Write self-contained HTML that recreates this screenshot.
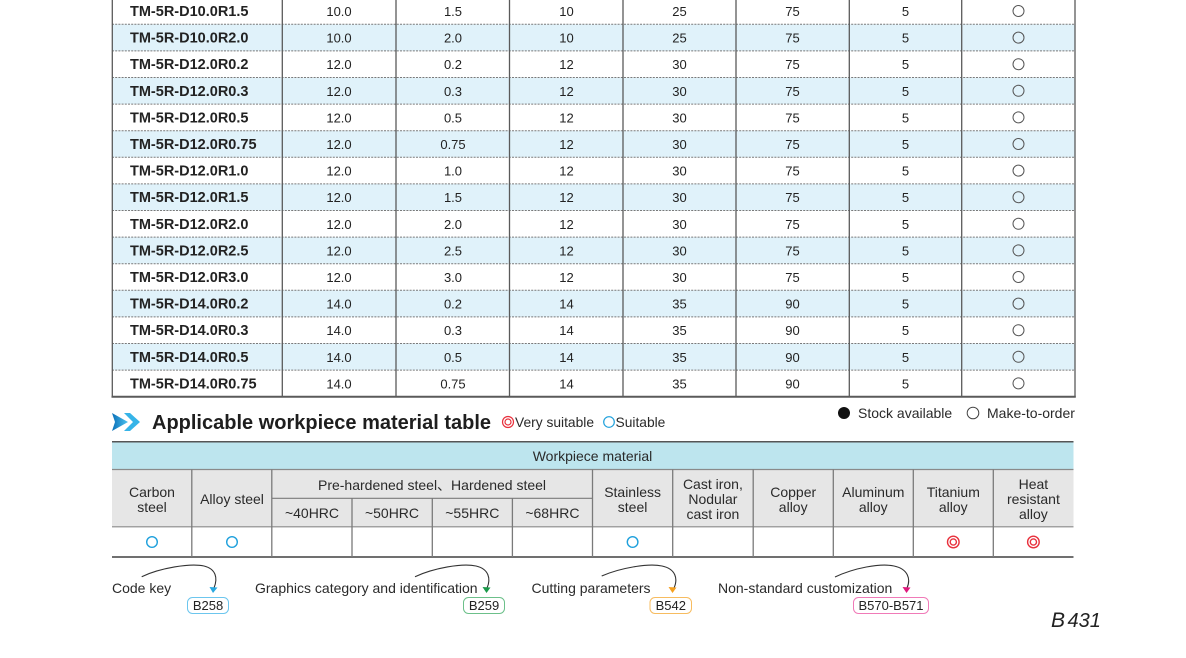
<!DOCTYPE html>
<html><head><meta charset="utf-8">
<style>
html,body{margin:0;padding:0;background:#fff;}
svg{display:block;}
text{font-family:"Liberation Sans","Noto Sans CJK SC",sans-serif;fill:#222;}
.c{text-anchor:middle;font-size:13px;}
.k{font-size:14.5px;font-weight:bold;}
.h{text-anchor:middle;font-size:14px;fill:#2a2a2a;}
.b{font-size:14px;fill:#2a2a2a;}
.p{text-anchor:middle;font-size:13px;fill:#222;}
</style></head>
<body>
<svg width="1186" height="658" viewBox="0 0 1186 658" xmlns="http://www.w3.org/2000/svg">
<!-- main table backgrounds -->
<g fill="#e0f2fa">
<rect x="112" y="24.3" width="963" height="26.6"/>
<rect x="112" y="77.5" width="963" height="26.6"/>
<rect x="112" y="130.7" width="963" height="26.6"/>
<rect x="112" y="183.9" width="963" height="26.6"/>
<rect x="112" y="237.1" width="963" height="26.6"/>
<rect x="112" y="290.3" width="963" height="26.6"/>
<rect x="112" y="343.5" width="963" height="26.6"/>
</g>
<!-- dotted horizontal lines -->
<g stroke="#7a7a7a" stroke-width="1" stroke-dasharray="2,1.2">
<line x1="112" y1="24.3" x2="1075" y2="24.3"/>
<line x1="112" y1="50.9" x2="1075" y2="50.9"/>
<line x1="112" y1="77.5" x2="1075" y2="77.5"/>
<line x1="112" y1="104.1" x2="1075" y2="104.1"/>
<line x1="112" y1="130.7" x2="1075" y2="130.7"/>
<line x1="112" y1="157.3" x2="1075" y2="157.3"/>
<line x1="112" y1="183.9" x2="1075" y2="183.9"/>
<line x1="112" y1="210.5" x2="1075" y2="210.5"/>
<line x1="112" y1="237.1" x2="1075" y2="237.1"/>
<line x1="112" y1="263.7" x2="1075" y2="263.7"/>
<line x1="112" y1="290.3" x2="1075" y2="290.3"/>
<line x1="112" y1="316.9" x2="1075" y2="316.9"/>
<line x1="112" y1="343.5" x2="1075" y2="343.5"/>
<line x1="112" y1="370.1" x2="1075" y2="370.1"/>
</g>
<!-- vertical lines -->
<g stroke="#5a5a5a" stroke-width="1.3">
<line x1="112.3" y1="0" x2="112.3" y2="397"/>
<line x1="282.3" y1="0" x2="282.3" y2="397"/>
<line x1="396" y1="0" x2="396" y2="397"/>
<line x1="509.5" y1="0" x2="509.5" y2="397"/>
<line x1="623" y1="0" x2="623" y2="397"/>
<line x1="736" y1="0" x2="736" y2="397"/>
<line x1="849.3" y1="0" x2="849.3" y2="397"/>
<line x1="961.7" y1="0" x2="961.7" y2="397"/>
<line x1="1075" y1="0" x2="1075" y2="397"/>
</g>
<line x1="111.5" y1="396.7" x2="1075.8" y2="396.7" stroke="#5a5a5a" stroke-width="2"/>

<!-- rows -->
<g id="rows">
<g transform="translate(0,11)"><text x="130" y="5" class="k">TM-5R-D10.0R1.5</text><text x="339" y="5" class="c">10.0</text><text x="453" y="5" class="c">1.5</text><text x="566.5" y="5" class="c">10</text><text x="679.5" y="5" class="c">25</text><text x="792.5" y="5" class="c">75</text><text x="905.5" y="5" class="c">5</text><circle cx="1018.5" cy="0" r="5.5" fill="none" stroke="#555" stroke-width="1"/></g>
<g transform="translate(0,37.6)"><text x="130" y="5" class="k">TM-5R-D10.0R2.0</text><text x="339" y="5" class="c">10.0</text><text x="453" y="5" class="c">2.0</text><text x="566.5" y="5" class="c">10</text><text x="679.5" y="5" class="c">25</text><text x="792.5" y="5" class="c">75</text><text x="905.5" y="5" class="c">5</text><circle cx="1018.5" cy="0" r="5.5" fill="none" stroke="#555" stroke-width="1"/></g>
<g transform="translate(0,64.2)"><text x="130" y="5" class="k">TM-5R-D12.0R0.2</text><text x="339" y="5" class="c">12.0</text><text x="453" y="5" class="c">0.2</text><text x="566.5" y="5" class="c">12</text><text x="679.5" y="5" class="c">30</text><text x="792.5" y="5" class="c">75</text><text x="905.5" y="5" class="c">5</text><circle cx="1018.5" cy="0" r="5.5" fill="none" stroke="#555" stroke-width="1"/></g>
<g transform="translate(0,90.8)"><text x="130" y="5" class="k">TM-5R-D12.0R0.3</text><text x="339" y="5" class="c">12.0</text><text x="453" y="5" class="c">0.3</text><text x="566.5" y="5" class="c">12</text><text x="679.5" y="5" class="c">30</text><text x="792.5" y="5" class="c">75</text><text x="905.5" y="5" class="c">5</text><circle cx="1018.5" cy="0" r="5.5" fill="none" stroke="#555" stroke-width="1"/></g>
<g transform="translate(0,117.4)"><text x="130" y="5" class="k">TM-5R-D12.0R0.5</text><text x="339" y="5" class="c">12.0</text><text x="453" y="5" class="c">0.5</text><text x="566.5" y="5" class="c">12</text><text x="679.5" y="5" class="c">30</text><text x="792.5" y="5" class="c">75</text><text x="905.5" y="5" class="c">5</text><circle cx="1018.5" cy="0" r="5.5" fill="none" stroke="#555" stroke-width="1"/></g>
<g transform="translate(0,144)"><text x="130" y="5" class="k">TM-5R-D12.0R0.75</text><text x="339" y="5" class="c">12.0</text><text x="453" y="5" class="c">0.75</text><text x="566.5" y="5" class="c">12</text><text x="679.5" y="5" class="c">30</text><text x="792.5" y="5" class="c">75</text><text x="905.5" y="5" class="c">5</text><circle cx="1018.5" cy="0" r="5.5" fill="none" stroke="#555" stroke-width="1"/></g>
<g transform="translate(0,170.6)"><text x="130" y="5" class="k">TM-5R-D12.0R1.0</text><text x="339" y="5" class="c">12.0</text><text x="453" y="5" class="c">1.0</text><text x="566.5" y="5" class="c">12</text><text x="679.5" y="5" class="c">30</text><text x="792.5" y="5" class="c">75</text><text x="905.5" y="5" class="c">5</text><circle cx="1018.5" cy="0" r="5.5" fill="none" stroke="#555" stroke-width="1"/></g>
<g transform="translate(0,197.2)"><text x="130" y="5" class="k">TM-5R-D12.0R1.5</text><text x="339" y="5" class="c">12.0</text><text x="453" y="5" class="c">1.5</text><text x="566.5" y="5" class="c">12</text><text x="679.5" y="5" class="c">30</text><text x="792.5" y="5" class="c">75</text><text x="905.5" y="5" class="c">5</text><circle cx="1018.5" cy="0" r="5.5" fill="none" stroke="#555" stroke-width="1"/></g>
<g transform="translate(0,223.8)"><text x="130" y="5" class="k">TM-5R-D12.0R2.0</text><text x="339" y="5" class="c">12.0</text><text x="453" y="5" class="c">2.0</text><text x="566.5" y="5" class="c">12</text><text x="679.5" y="5" class="c">30</text><text x="792.5" y="5" class="c">75</text><text x="905.5" y="5" class="c">5</text><circle cx="1018.5" cy="0" r="5.5" fill="none" stroke="#555" stroke-width="1"/></g>
<g transform="translate(0,250.4)"><text x="130" y="5" class="k">TM-5R-D12.0R2.5</text><text x="339" y="5" class="c">12.0</text><text x="453" y="5" class="c">2.5</text><text x="566.5" y="5" class="c">12</text><text x="679.5" y="5" class="c">30</text><text x="792.5" y="5" class="c">75</text><text x="905.5" y="5" class="c">5</text><circle cx="1018.5" cy="0" r="5.5" fill="none" stroke="#555" stroke-width="1"/></g>
<g transform="translate(0,277)"><text x="130" y="5" class="k">TM-5R-D12.0R3.0</text><text x="339" y="5" class="c">12.0</text><text x="453" y="5" class="c">3.0</text><text x="566.5" y="5" class="c">12</text><text x="679.5" y="5" class="c">30</text><text x="792.5" y="5" class="c">75</text><text x="905.5" y="5" class="c">5</text><circle cx="1018.5" cy="0" r="5.5" fill="none" stroke="#555" stroke-width="1"/></g>
<g transform="translate(0,303.6)"><text x="130" y="5" class="k">TM-5R-D14.0R0.2</text><text x="339" y="5" class="c">14.0</text><text x="453" y="5" class="c">0.2</text><text x="566.5" y="5" class="c">14</text><text x="679.5" y="5" class="c">35</text><text x="792.5" y="5" class="c">90</text><text x="905.5" y="5" class="c">5</text><circle cx="1018.5" cy="0" r="5.5" fill="none" stroke="#555" stroke-width="1"/></g>
<g transform="translate(0,330.2)"><text x="130" y="5" class="k">TM-5R-D14.0R0.3</text><text x="339" y="5" class="c">14.0</text><text x="453" y="5" class="c">0.3</text><text x="566.5" y="5" class="c">14</text><text x="679.5" y="5" class="c">35</text><text x="792.5" y="5" class="c">90</text><text x="905.5" y="5" class="c">5</text><circle cx="1018.5" cy="0" r="5.5" fill="none" stroke="#555" stroke-width="1"/></g>
<g transform="translate(0,356.8)"><text x="130" y="5" class="k">TM-5R-D14.0R0.5</text><text x="339" y="5" class="c">14.0</text><text x="453" y="5" class="c">0.5</text><text x="566.5" y="5" class="c">14</text><text x="679.5" y="5" class="c">35</text><text x="792.5" y="5" class="c">90</text><text x="905.5" y="5" class="c">5</text><circle cx="1018.5" cy="0" r="5.5" fill="none" stroke="#555" stroke-width="1"/></g>
<g transform="translate(0,383.4)"><text x="130" y="5" class="k">TM-5R-D14.0R0.75</text><text x="339" y="5" class="c">14.0</text><text x="453" y="5" class="c">0.75</text><text x="566.5" y="5" class="c">14</text><text x="679.5" y="5" class="c">35</text><text x="792.5" y="5" class="c">90</text><text x="905.5" y="5" class="c">5</text><circle cx="1018.5" cy="0" r="5.5" fill="none" stroke="#555" stroke-width="1"/></g>
</g>

<!-- section title -->
<defs>
<linearGradient id="ag" x1="0" y1="0" x2="1" y2="0">
<stop offset="0" stop-color="#0a6fb8"/><stop offset="1" stop-color="#4cc3ef"/>
</linearGradient>
</defs>
<polygon points="112,413 128,422 112,431 115,422" fill="url(#ag)"/>
<polygon points="124,413 130,413 140,422 130,431 124,431 133,422" fill="#36b4e8"/>
<text x="152" y="429" style="font-size:20px;font-weight:bold;fill:#1e1e1e;">Applicable workpiece material table</text>
<circle cx="508" cy="422" r="5.5" fill="none" stroke="#e8303c" stroke-width="1.2"/>
<circle cx="508" cy="422" r="3" fill="none" stroke="#e8303c" stroke-width="1.2"/>
<text x="515" y="427" style="font-size:13.8px;fill:#2a2a2a;">Very suitable</text>
<circle cx="609" cy="422" r="5.3" fill="none" stroke="#1ea0dc" stroke-width="1.2"/>
<text x="615.5" y="427" style="font-size:13.8px;fill:#2a2a2a;">Suitable</text>

<!-- stock legend -->
<circle cx="844" cy="413" r="6" fill="#111"/>
<text x="858" y="418" class="b">Stock available</text>
<circle cx="973" cy="413" r="5.8" fill="none" stroke="#444" stroke-width="1"/>
<text x="987" y="418" class="b">Make-to-order</text>

<!-- material table -->
<rect x="112" y="442" width="961.5" height="27" fill="#bde5ee"/>
<rect x="112" y="469.5" width="961.5" height="57" fill="#e6e6e6"/>
<line x1="112" y1="441.7" x2="1073.5" y2="441.7" stroke="#555" stroke-width="1.5"/>
<line x1="112" y1="469.5" x2="1073.5" y2="469.5" stroke="#8a8a8a" stroke-width="1.2"/>
<line x1="112" y1="526.8" x2="1073.5" y2="526.8" stroke="#8a8a8a" stroke-width="1.2"/>
<line x1="272" y1="498.3" x2="592.5" y2="498.3" stroke="#7a7a7a" stroke-width="1.2"/>
<line x1="112" y1="557" x2="1073.5" y2="557" stroke="#707070" stroke-width="2"/>
<g stroke="#7a7a7a" stroke-width="1.3">
<line x1="191.8" y1="469.5" x2="191.8" y2="557"/>
<line x1="271.8" y1="469.5" x2="271.8" y2="557"/>
<line x1="352" y1="498.3" x2="352" y2="557"/>
<line x1="432.3" y1="498.3" x2="432.3" y2="557"/>
<line x1="512.4" y1="498.3" x2="512.4" y2="557"/>
<line x1="592.5" y1="469.5" x2="592.5" y2="557"/>
<line x1="672.7" y1="469.5" x2="672.7" y2="557"/>
<line x1="753.2" y1="469.5" x2="753.2" y2="557"/>
<line x1="833.3" y1="469.5" x2="833.3" y2="557"/>
<line x1="913.3" y1="469.5" x2="913.3" y2="557"/>
<line x1="993.3" y1="469.5" x2="993.3" y2="557"/>
</g>
<text x="592.5" y="461" class="h">Workpiece material</text>
<text x="152" y="497" class="h">Carbon</text><text x="152" y="512" class="h">steel</text>
<text x="232" y="504" class="h">Alloy steel</text>
<text x="432" y="490" class="h">Pre-hardened steel、Hardened steel</text>
<text x="312" y="518" class="h">~40HRC</text>
<text x="392" y="518" class="h">~50HRC</text>
<text x="472.3" y="518" class="h">~55HRC</text>
<text x="552.4" y="518" class="h">~68HRC</text>
<text x="632.6" y="497" class="h">Stainless</text><text x="632.6" y="512" class="h">steel</text>
<text x="712.9" y="489" class="h">Cast iron,</text><text x="712.9" y="504" class="h">Nodular</text><text x="712.9" y="519" class="h">cast iron</text>
<text x="793.2" y="497" class="h">Copper</text><text x="793.2" y="512" class="h">alloy</text>
<text x="873.3" y="497" class="h">Aluminum</text><text x="873.3" y="512" class="h">alloy</text>
<text x="953.3" y="497" class="h">Titanium</text><text x="953.3" y="512" class="h">alloy</text>
<text x="1033.4" y="489" class="h">Heat</text><text x="1033.4" y="504" class="h">resistant</text><text x="1033.4" y="519" class="h">alloy</text>
<g fill="none" stroke="#1ea0dc" stroke-width="1.4">
<circle cx="152" cy="542" r="5.3"/>
<circle cx="232" cy="542" r="5.3"/>
<circle cx="632.6" cy="542" r="5.3"/>
</g>
<g fill="none" stroke="#e8303c" stroke-width="1.4">
<circle cx="953.3" cy="542" r="5.8"/><circle cx="953.3" cy="542" r="3.1"/>
<circle cx="1033.4" cy="542" r="5.8"/><circle cx="1033.4" cy="542" r="3.1"/>
</g>

<!-- bottom references -->
<g fill="none" stroke="#333" stroke-width="1.1">
<path d="M141.7,576.7 C160,568 190,563 204,566 C216,569 218,578 214,588"/>
<path d="M415,576.7 C434,568 462,563 476,566 C489,569 491,579 487,588"/>
<path d="M601.7,576 C620,568 648,563 662,566 C676,569 678,579 674,588"/>
<path d="M835,577 C854,568 880,563 894,566 C908,569 911,579 907,588"/>
</g>
<polygon points="209.5,587 217.5,587.5 213,593" fill="#29a8e0"/>
<polygon points="482.5,587 490.5,587.5 486.5,593" fill="#1a9a4a"/>
<polygon points="668.5,587 676.5,587.5 672.5,593" fill="#f5a020"/>
<polygon points="902.5,587 910.5,587.5 906.5,593" fill="#e0197d"/>

<text x="112" y="593" class="b">Code key</text>
<text x="255" y="593" class="b">Graphics category and identification</text>
<text x="531.5" y="593" class="b">Cutting parameters</text>
<text x="718" y="593" class="b">Non-standard customization</text>

<rect x="187.5" y="597.5" width="41" height="16" rx="5" fill="#fff" stroke="#6cc6ee" stroke-width="1"/>
<text x="208" y="610" class="p">B258</text>
<rect x="463.5" y="597.5" width="41" height="16" rx="5" fill="#fff" stroke="#6cc08a" stroke-width="1"/>
<text x="484" y="610" class="p">B259</text>
<rect x="650" y="597.5" width="41.5" height="16" rx="5" fill="#fff" stroke="#f7bc60" stroke-width="1"/>
<text x="670.8" y="610" class="p">B542</text>
<rect x="853.5" y="597.5" width="75" height="16" rx="5" fill="#fff" stroke="#f07ab8" stroke-width="1"/>
<text x="891" y="610" class="p">B570-B571</text>

<text x="1051" y="627" style="font-size:21px;font-style:italic;fill:#222;">B<tspan dx="2.5" style="font-size:20px;">431</tspan></text>
</svg>
</body></html>
